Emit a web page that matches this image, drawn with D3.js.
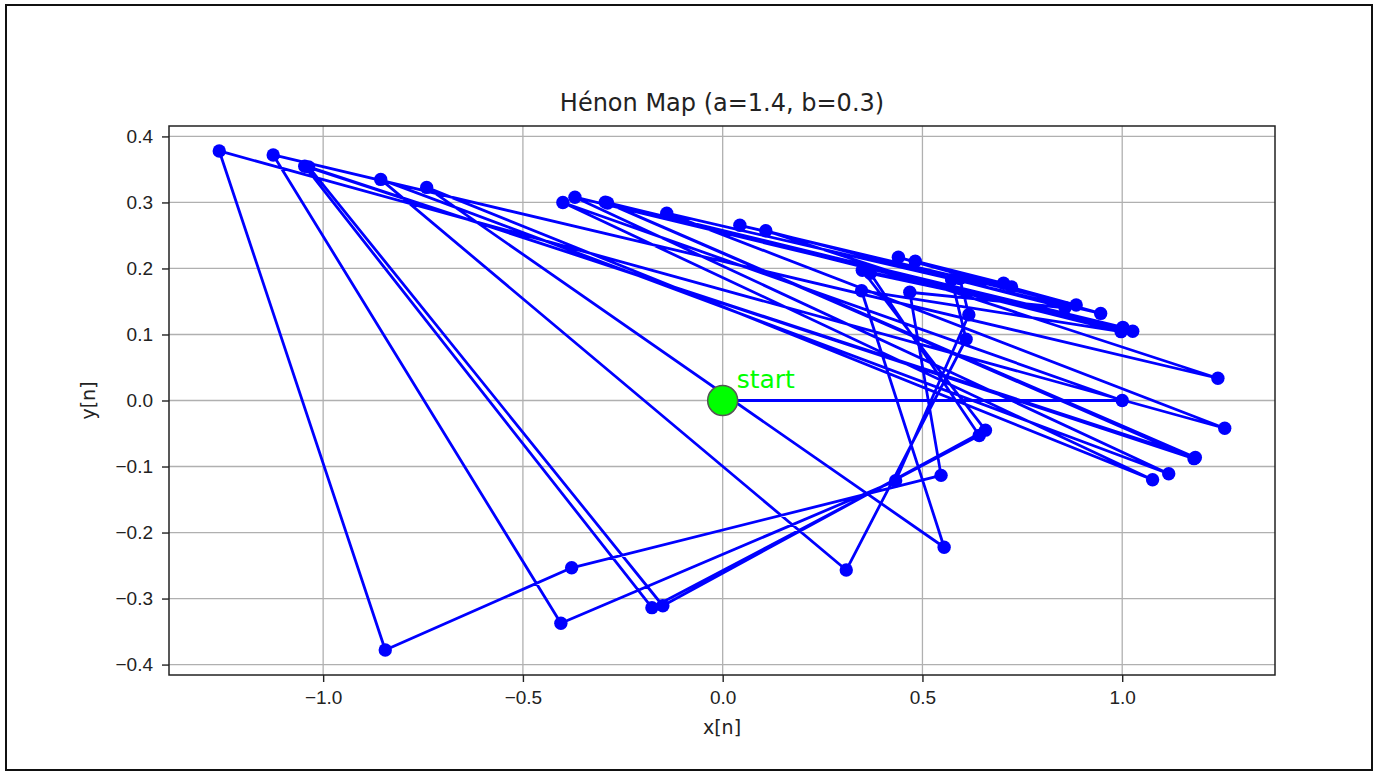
<!DOCTYPE html>
<html>
<head>
<meta charset="utf-8">
<script src="https://cdn.jsdelivr.net/npm/d3@7"></script>
<style>
  body { margin: 0; background: #fff; }
  svg { display: block; font-family: "DejaVu Sans", sans-serif; }
</style>
</head>
<body>
<svg width="1377" height="772"></svg>
<script>
// Hénon map trajectory

var xs = [0, 1, -0.4, 1.076, -0.7409, 0.5543, 0.3476, 0.9972, -0.2879, 1.1831,
          -1.0461, -0.1771, 0.6422, 0.3694, 1.0016, -0.2938, 1.1797, -1.0364, -0.1498, 0.6577,
          0.3495, 1.0263, -0.3698, 1.1164, -0.8559, 0.3093, 0.6093, 0.573, 0.7231, 0.4398,
          0.9461, -0.14, 1.2566, -1.26, -0.8446, -0.378, 0.5466, 0.4683, 0.857, 0.108,
          1.2395, -1.125, -0.405, 0.4329, 0.6161, 0.5935, 0.703, 0.482, 0.8848, 0.043];
var ys = [0, 0, 0.3, -0.12, 0.3228, -0.2223, 0.1663, 0.1043, 0.2992, -0.0864,
          0.3549, -0.3138, -0.0531, 0.1927, 0.1108, 0.3005, -0.0881, 0.3539, -0.3109, -0.0449,
          0.1973, 0.1048, 0.3079, -0.1109, 0.3349, -0.2568, 0.0928, 0.1828, 0.1719, 0.2169,
          0.1319, 0.2838, -0.042, 0.378, -0.378, -0.2534, -0.1134, 0.164, 0.1405, 0.2571,
          0.0337, 0.3719, -0.3375, -0.1215, 0.1299, 0.1848, 0.1776, 0.211, 0.1446, 0.2654];

var xTicks = [-1.0, -0.5, 0.0, 0.5, 1.0];
var yTicks = [-0.4, -0.3, -0.2, -0.1, 0.0, 0.1, 0.2, 0.3, 0.4];

var titleText = "Hénon Map (a=1.4, b=0.3)";
var xLabel = "x[n]", yLabel = "y[n]", startLabel = "start";

var points = xs.map(function(x, i) { return { x: x, y: ys[i] }; });

var svg = d3.select("svg");

// outer frame
svg.append("rect")
   .attr("x", 6).attr("y", 5)
   .attr("width", 1366).attr("height", 765)
   .attr("fill", "#fff")
   .attr("stroke", "#111")
   .attr("stroke-width", 2);

var plotLeft = 169, plotRight = 1275, plotTop = 126, plotBottom = 675;

// matplotlib style 5% padding
function padded(ext) {
    var p = (ext[1] - ext[0]) * 0.05;
    return [ext[0] - p, ext[1] + p];
}

var xScale = d3.scaleLinear().domain(padded(d3.extent(xs))).range([plotLeft, plotRight]);
var yScale = d3.scaleLinear().domain(padded(d3.extent(ys))).range([plotBottom, plotTop]);

var fmt = function(d) { return d3.format(".1f")(d).replace("-", "\u2212"); };

// grid
var grid = svg.append("g").attr("stroke", "#b0b0b0").attr("stroke-width", 1.3);
grid.selectAll(".gx").data(xTicks).enter().append("line")
    .attr("x1", function(d) { return xScale(d); })
    .attr("x2", function(d) { return xScale(d); })
    .attr("y1", plotTop).attr("y2", plotBottom);
grid.selectAll(".gy").data(yTicks).enter().append("line")
    .attr("y1", function(d) { return yScale(d); })
    .attr("y2", function(d) { return yScale(d); })
    .attr("x1", plotLeft).attr("x2", plotRight);

// axes
var xAxis = d3.axisBottom(xScale).tickValues(xTicks).tickFormat(fmt).tickSize(7).tickPadding(9);
var yAxis = d3.axisLeft(yScale).tickValues(yTicks).tickFormat(fmt).tickSize(7).tickPadding(9);

var gx = svg.append("g").attr("transform", "translate(0," + plotBottom + ")").call(xAxis);
var gy = svg.append("g").attr("transform", "translate(" + plotLeft + ",0)").call(yAxis);
[gx, gy].forEach(function(g) {
    g.select(".domain").remove();
    g.selectAll(".tick line").attr("stroke", "#222").attr("stroke-width", 1.4);
    g.selectAll(".tick text").attr("fill", "#222").style("font-size", "19px");
});

// trajectory
var line = d3.line()
             .x(function(d) { return xScale(d.x); })
             .y(function(d) { return yScale(d.y); });

svg.append("path")
   .datum(points)
   .attr("d", line)
   .attr("fill", "none")
   .attr("stroke", "#0000ff")
   .attr("stroke-width", 2.8)
   .attr("stroke-linejoin", "round");

svg.selectAll(".dot").data(points).enter().append("circle")
   .attr("class", "dot")
   .attr("cx", function(d) { return xScale(d.x); })
   .attr("cy", function(d) { return yScale(d.y); })
   .attr("r", 6.7)
   .attr("fill", "#0000ff");

// start marker
svg.append("circle")
   .attr("cx", xScale(xs[0]))
   .attr("cy", yScale(ys[0]))
   .attr("r", 15)
   .attr("fill", "#00ff00")
   .attr("stroke", "#555")
   .attr("stroke-width", 1.5);

svg.append("text")
   .attr("x", xScale(xs[0]) + 14)
   .attr("y", yScale(ys[0]) - 13)
   .attr("fill", "#00ff00")
   .style("font-size", "25px")
   .text(startLabel);

// spines
svg.append("rect")
   .attr("x", plotLeft).attr("y", plotTop)
   .attr("width", plotRight - plotLeft).attr("height", plotBottom - plotTop)
   .attr("fill", "none")
   .attr("stroke", "#222")
   .attr("stroke-width", 1.5);

// title and labels
svg.append("text")
   .attr("x", (plotLeft + plotRight) / 2).attr("y", 111)
   .attr("text-anchor", "middle")
   .attr("fill", "#222")
   .style("font-size", "24px")
   .text(titleText);

svg.append("text")
   .attr("x", (plotLeft + plotRight) / 2).attr("y", 734)
   .attr("text-anchor", "middle")
   .attr("fill", "#222")
   .style("font-size", "19px")
   .text(xLabel);

svg.append("text")
   .attr("transform", "translate(95," + (plotTop + plotBottom) / 2 + ") rotate(-90)")
   .attr("text-anchor", "middle")
   .attr("fill", "#222")
   .style("font-size", "19px")
   .text(yLabel);
</script>
</body>
</html>
